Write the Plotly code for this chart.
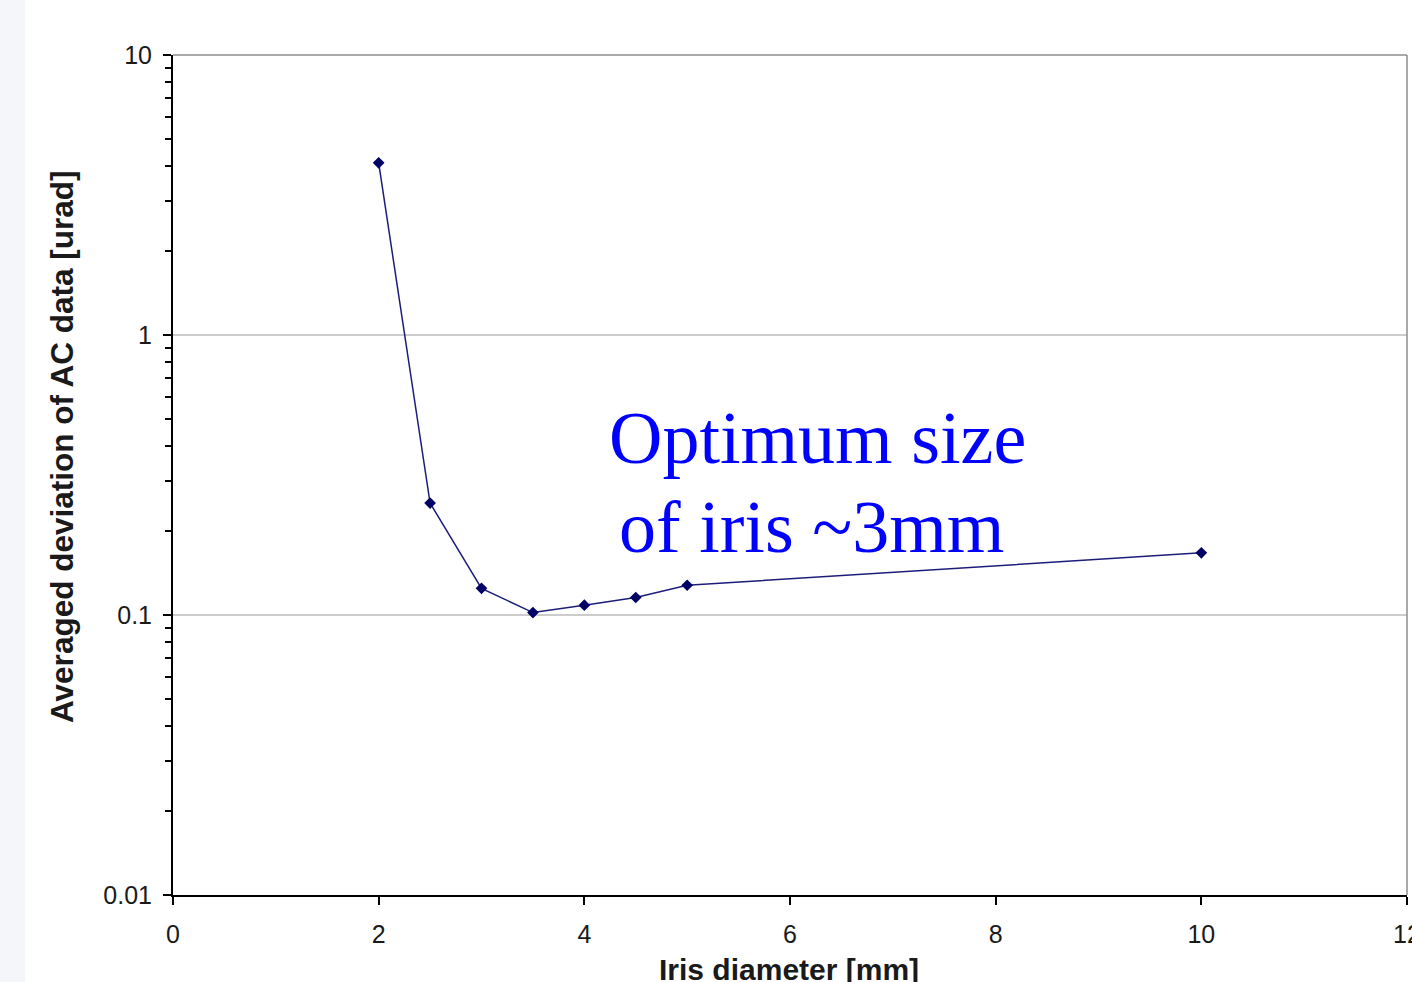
import plotly.graph_objects as go

iris_diameter_mm = [2, 2.5, 3, 3.5, 4, 4.5, 5, 10]
avg_deviation_urad = [4.12, 0.251, 0.1245, 0.102, 0.1084, 0.1155, 0.1277, 0.1667]

x_ticks = [0, 2, 4, 6, 8, 10, 12]
y_ticks = [0.01, 0.1, 1, 10]
y_tick_text = ["0.01", "0.1", "1", "10"]
y_minor_ticks = [m * d for d in (0.01, 0.1, 1) for m in range(2, 10)]

W, H = 1412, 982
L, R, T, B = 173, 5, 55, 87
PW, PH = W - L - R, H - T - B

def px(xp):
    return (xp - L) / PW

def py(yp):
    return (H - B - yp) / PH

fig = go.Figure()
fig.add_trace(go.Scatter(
    x=iris_diameter_mm, y=avg_deviation_urad, mode="lines+markers",
    line=dict(color="#1c1c7a", width=1.5),
    marker=dict(symbol="diamond", size=9, color="#000066"),
    showlegend=False,
))

fig.update_layout(
    width=W, height=H,
    margin=dict(l=L, r=R, t=T, b=B),
    paper_bgcolor="white", plot_bgcolor="white",
    font=dict(family="Liberation Sans, Arial, sans-serif", color="#1a1a1a"),
    xaxis=dict(
        range=[0, 12], tickvals=x_ticks, ticktext=[str(v) for v in x_ticks],
        showgrid=False, zeroline=False, automargin=False,
        showline=True, linecolor="black", linewidth=2,
        ticks="outside", ticklen=8, tickwidth=1.5, tickcolor="black",
        tickfont=dict(size=25), ticklabelstandoff=8, ticklabeloverflow="allow",
    ),
    yaxis=dict(
        type="log", range=[-2, 1], tickvals=y_ticks, ticktext=y_tick_text,
        showgrid=True, gridcolor="#cccccc", gridwidth=1.5, zeroline=False, automargin=False,
        showline=True, linecolor="black", linewidth=2,
        ticks="outside", ticklen=8, tickwidth=1.5, tickcolor="black",
        tickfont=dict(size=25), ticklabelstandoff=6,
        minor=dict(ticks="outside", ticklen=6, tickwidth=1.5, tickcolor="black",
                   showgrid=False, tickvals=y_minor_ticks),
    ),
    shapes=[
        dict(type="rect", xref="paper", yref="paper", x0=px(0), x1=px(25), y0=py(H), y1=py(0),
             fillcolor="#f4f6fa", line=dict(width=0), layer="below"),
        dict(type="line", xref="paper", yref="paper", x0=0, x1=1, y0=1, y1=1,
             line=dict(color="#8c8c8c", width=1.5)),
        dict(type="line", xref="paper", yref="paper", x0=1, x1=1, y0=0, y1=1,
             line=dict(color="#8c8c8c", width=1.5)),
    ],
    annotations=[
        dict(text="<b>Averaged deviation of AC data [urad]</b>", xref="paper", yref="paper",
             x=px(62), y=py(447), xanchor="center", yanchor="middle", textangle=-90,
             showarrow=False, font=dict(size=31.5, color="#1a1a1a", family="Liberation Sans, Arial, sans-serif")),
        dict(text="<b>Iris diameter [mm]</b>", xref="paper", yref="paper",
             x=px(789), y=py(970), xanchor="center", yanchor="middle",
             showarrow=False, font=dict(size=30, color="#1a1a1a", family="Liberation Sans, Arial, sans-serif")),
        dict(text="Optimum size", xref="paper", yref="paper",
             x=px(817), y=py(438), xanchor="center", yanchor="middle",
             showarrow=False, font=dict(size=74, color="#0000ff", family="Liberation Serif, Times New Roman, serif")),
        dict(text="of iris ~3mm", xref="paper", yref="paper",
             x=px(811), y=py(527), xanchor="center", yanchor="middle",
             showarrow=False, font=dict(size=74, color="#0000ff", family="Liberation Serif, Times New Roman, serif")),
    ],
)

fig.write_html("out.html", config={"displayModeBar": False},
               post_script="document.body.style.margin='0';")
